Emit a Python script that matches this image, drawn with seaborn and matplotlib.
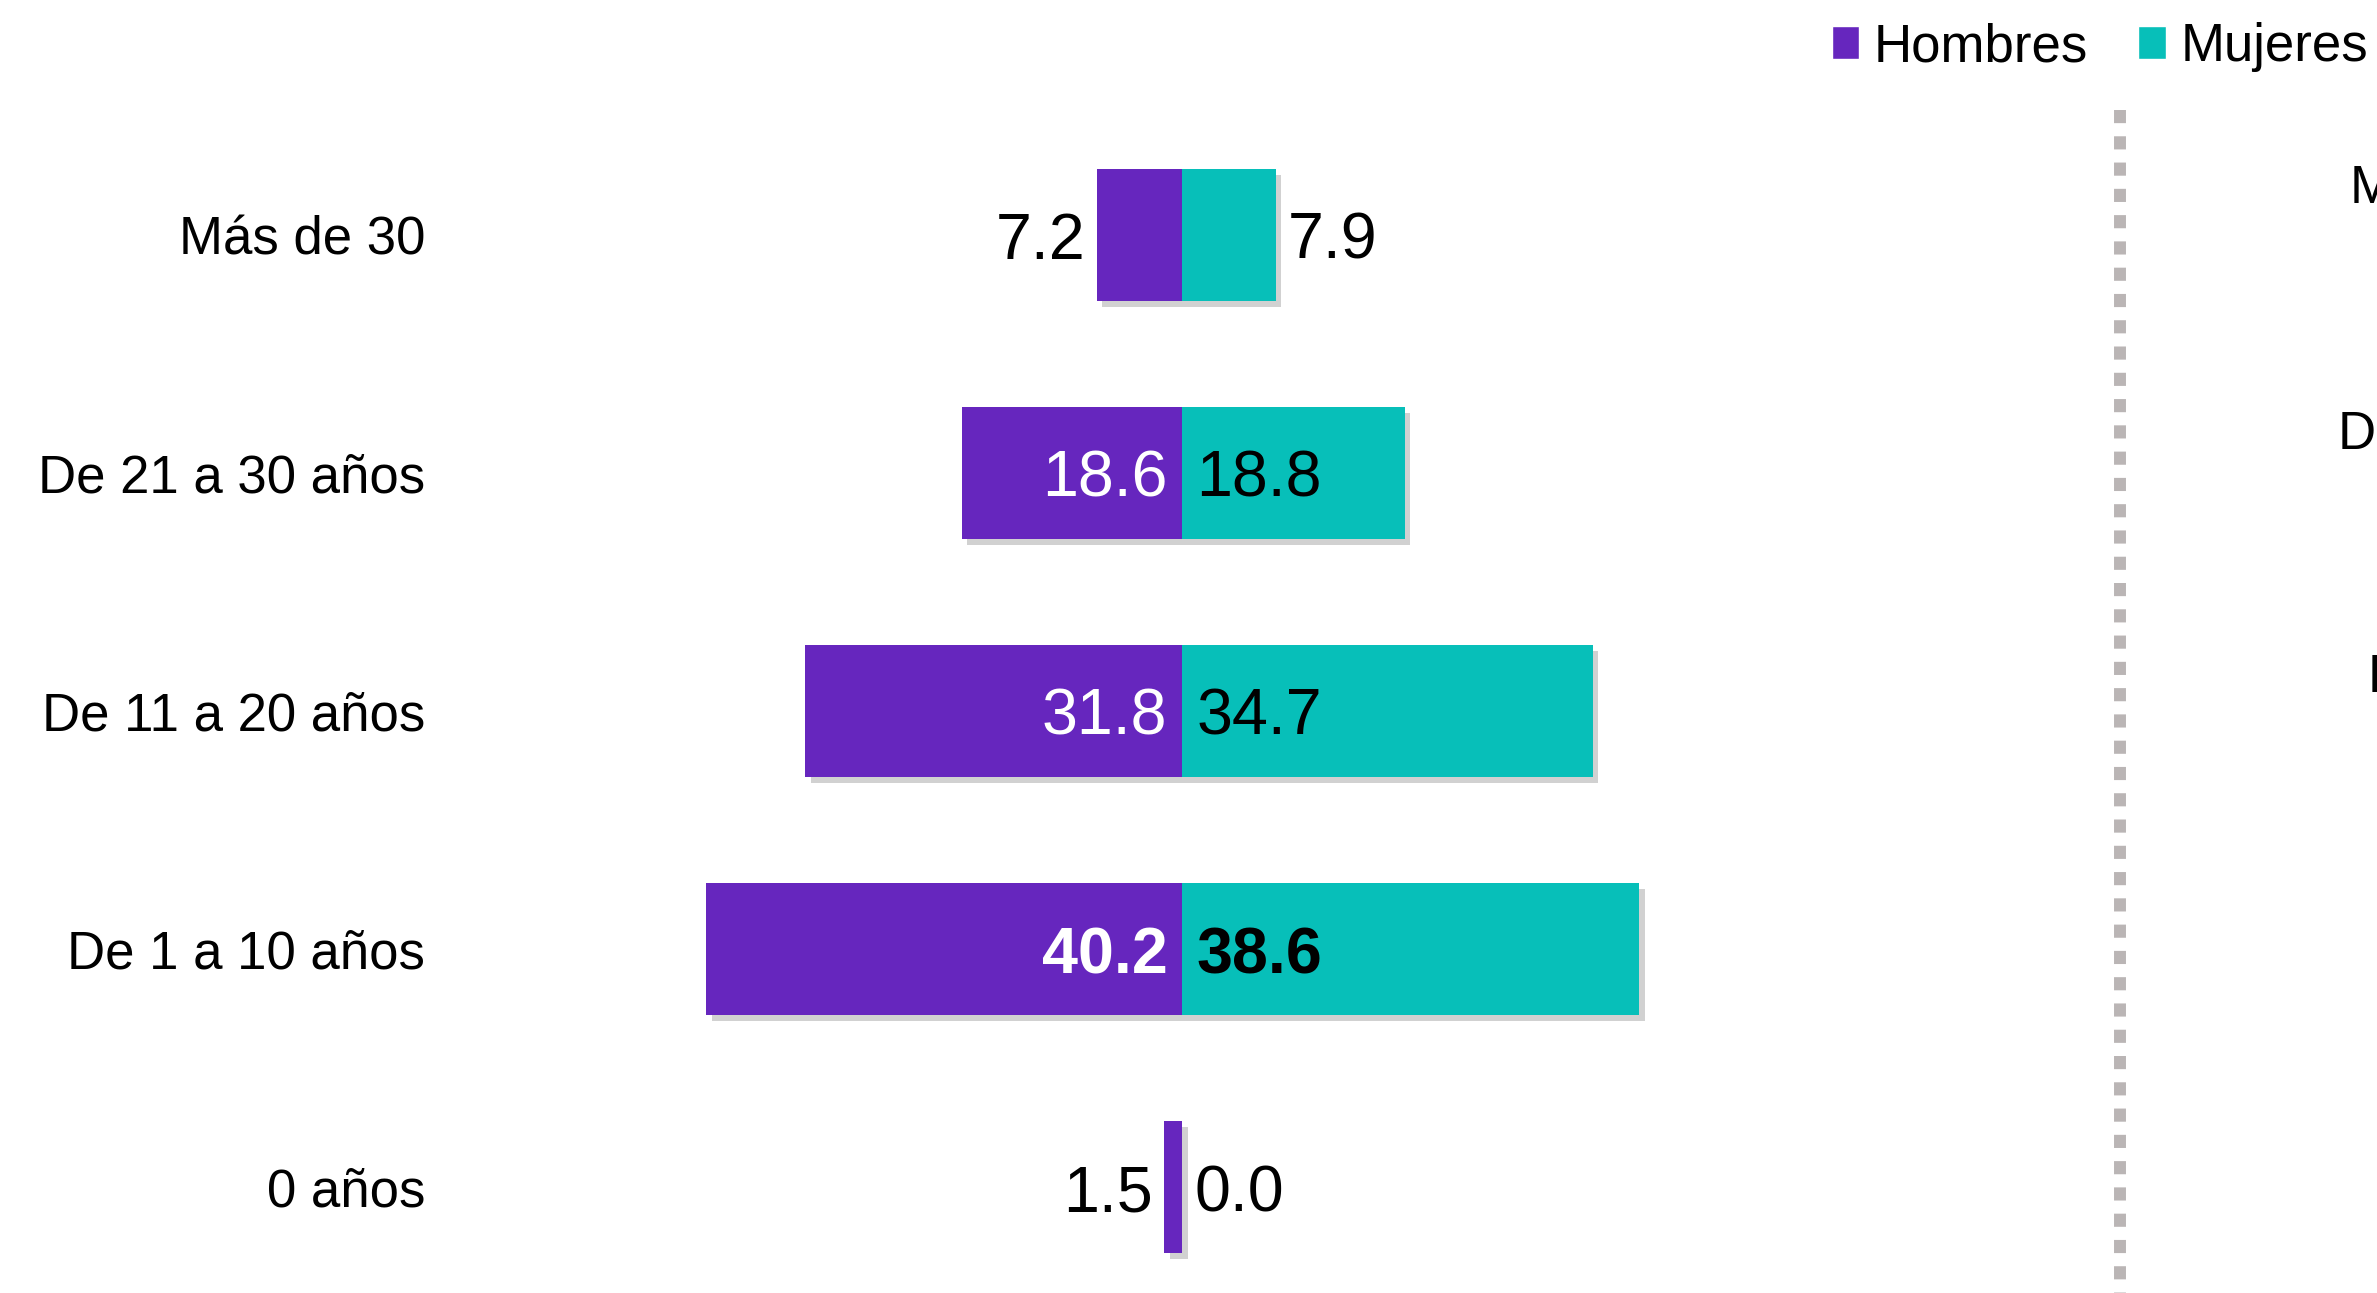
import matplotlib
matplotlib.use("Agg")
import matplotlib.pyplot as plt
import matplotlib.patheffects as pe
from matplotlib.patches import Patch
import pandas as pd
import seaborn as sns

# data
categorias = ["Más de 30", "De 21 a 30 años", "De 11 a 20 años", "De 1 a 10 años", "0 años"]
hombres = [7.2, 18.6, 31.8, 40.2, 1.5]
mujeres = [7.9, 18.8, 34.7, 38.6, 0.0]
etiquetas_derecha = ["Más de 30", "De 21 a 30 años", "De 11 a 20 años"]

MORADO = "#6626BE"
TURQUESA = "#07BFB9"
GRIS = "#BAB5B5"

sns.set_theme(style="white")
plt.rcParams["font.family"] = ["Liberation Sans", "DejaVu Sans"]
plt.rcParams["text.color"] = "black"

df = pd.DataFrame({"cat": categorias, "h": [-v for v in hombres], "m": mujeres})

W, H = 2377, 1293
fig = plt.figure(figsize=(W / 100, H / 100), dpi=100)
fig.patch.set_facecolor("white")

# axes spanning pixels 500..1900 horizontally, 116..1293 vertically
ax = fig.add_axes([500 / W, 0, 1400 / W, 1177 / H])
sns.barplot(data=df, x="h", y="cat", orient="h", color=MORADO, saturation=1,
            width=0.555, ax=ax, linewidth=0)
sns.barplot(data=df, x="m", y="cat", orient="h", color=TURQUESA, saturation=1,
            width=0.555, ax=ax, linewidth=0)

shadow = [pe.SimplePatchShadow(offset=(4, -4), shadow_rgbFace="#9a9a9a", alpha=0.45),
          pe.Normal()]
for p in ax.patches:
    p.set_path_effects(shadow)

px = 11.84  # pixels per unit
ax.set_xlim(-682 / px, 718 / px)
ax.set_ylim(4.445, -0.5)

dy = -5
fs = 46.5
for i, (h, m) in enumerate(zip(hombres, mujeres)):
    bold = "bold" if i == 3 else "normal"
    if h > 10:
        ax.annotate(f"{h:.1f}", (0, i), xytext=(-10.5, dy), textcoords="offset points",
                    ha="right", va="center", fontsize=fs, color="white", fontweight=bold)
    else:
        ax.annotate(f"{h:.1f}", (-h, i), xytext=(-8, dy), textcoords="offset points",
                    ha="right", va="center", fontsize=fs, color="black", fontweight=bold)
    if m > 10:
        ax.annotate(f"{m:.1f}", (0, i), xytext=(10.5, dy), textcoords="offset points",
                    ha="left", va="center", fontsize=fs, color="black", fontweight=bold)
    else:
        ax.annotate(f"{m:.1f}", (m, i), xytext=(9, dy), textcoords="offset points",
                    ha="left", va="center", fontsize=fs, color="black", fontweight=bold)

ax.set_xlabel("")
ax.set_ylabel("")
ax.set_xticks([])
ax.tick_params(axis="y", length=0, pad=54, labelsize=38, labelcolor="black")
for s in ax.spines.values():
    s.set_visible(False)

# vertical dotted separator
fig.add_artist(plt.Line2D([2120 / W, 2120 / W], [1 - 110 / H, 0], color=GRIS,
                          linewidth=8.6, linestyle=(0, (1.1, 1.1)),
                          solid_capstyle="butt", dash_capstyle="butt"))

# clipped labels of the next panel
for (x, y), t in zip([(2350, 190), (2338, 435), (2368, 678)], etiquetas_derecha):
    fig.text(x / W, 1 - y / H, t, fontsize=38, ha="left", va="center", color="black")

handles = [Patch(facecolor=MORADO, label="Hombres"), Patch(facecolor=TURQUESA, label="Mujeres")]
fig.legend(handles=handles, loc="upper right", bbox_to_anchor=(2368 / W, 1 - 22 / H),
           ncol=2, frameon=False, fontsize=38, handlelength=0.52, handleheight=0.57,
           handletextpad=0.28, columnspacing=0.95, borderpad=0, borderaxespad=0,
           labelcolor="black")

fig.savefig("out.png", dpi=100, facecolor="white")
